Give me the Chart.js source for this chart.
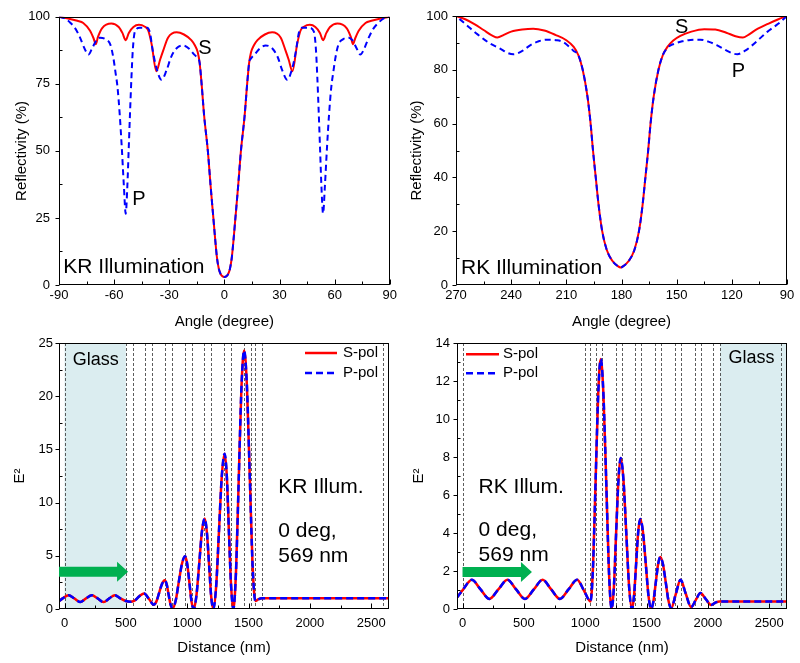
<!DOCTYPE html>
<html>
<head>
<meta charset="utf-8">
<script src="https://cdn.jsdelivr.net/npm/chart.js@4.4.1/dist/chart.umd.min.js"></script>
<style>
  body { margin: 0; background: #fff; }
  #lienzo { position: relative; width: 800px; height: 663px; overflow: hidden; background: #fff; }
  #lienzo canvas { position: absolute; }
</style>
</head>
<body>
<div id="lienzo">
  <canvas id="g1" width="400" height="335" style="left:0;top:0"></canvas>
  <canvas id="g2" width="400" height="335" style="left:400px;top:0"></canvas>
  <canvas id="g3" width="400" height="343" style="left:0;top:320px"></canvas>
  <canvas id="g4" width="400" height="343" style="left:400px;top:320px"></canvas>
</div>
<script>
// Reflectividad, iluminacion KR (angulo en grados, %)
const angKR_S = [-90,-84,-80,-76.8,-73.1,-71.2,-70,-68.8,-66.5,-61.5,-57.5,-55.5,-53.7,-52,-49.5,-46.5,-43.5,-41.4,-39.6,-37,-35,-33.3,-30.6,-26,-22,-18,-16,-14.5,-13.5,-12.4,-11,-9,-7.5,-6,-5,-4,-3,-2,-1,0,1,2,3,4,5,6,7.5,9,11,12.4,13.5,14.5,16,18,22,26,30.6,33.3,35,37,39.6,41.4,43.5,46.5,49.5,52,53.7,55.5,57.5,61.5,66.5,68.8,70,71.2,73.1,76.8,80,84,90];
const refKR_S = [100,99.2,98.5,97.7,94.8,92,89.8,92.5,95.8,97.5,96.2,94,91.3,94,96.2,97,96.4,94.8,89.8,79.7,84,87.4,92.3,94.2,93.4,91.3,89.3,86.8,83,75,63,50,37,25,17,10,6,4,3.2,3.0,3.2,4,6,10,17,25,37,50,63,75,83,86.8,89.3,91.3,93.4,94.2,92.3,87.4,84,79.7,89.8,94.8,96.4,97,96.2,94,91.3,94,96.2,97.5,95.8,92.5,89.8,92,94.8,97.7,98.5,99.2,100];
const angKR_P = [-90,-87,-84,-81,-78.6,-76,-74,-72,-69.5,-67.7,-64.5,-62,-60.5,-59.2,-58.2,-57,-55.9,-54.7,-53.7,-52.8,-52,-51.3,-50.6,-49.8,-48.7,-46,-42,-40.5,-39,-37,-34.2,-31.5,-29,-26,-22.5,-19,-16.5,-14.5,-13.5,-12.4,-11,-9,-7.5,-6,-5,-4,-3,-2,-1,0,1,2,3,4,5,6,7.5,9,11,12.4,13.5,14.5,16.5,19,22.5,26,29,31.5,34.2,37,39,40.5,42,46,48.7,49.8,50.6,51.3,52,52.8,53.7,54.7,55.9,57,58.2,59.2,60.5,62,64.5,67.7,69.5,72,74,76,78.6,81,84,87,90];
const refKR_P = [100,99.5,97.9,95.5,92.3,88,85.9,88.2,91.4,92.2,91.6,89.5,85,79,74,64,52,37,26.6,37,52,65,77,88,94.5,95.9,95.9,94,87.5,81,76.5,80,85,88.3,89.3,88,86,84.5,83,75,63,50,37,25,17,10,6,4,3.2,3.0,3.2,4,6,10,17,25,37,50,63,75,83,84.5,86,88,89.3,88.3,85,80,76.5,81,87.5,94,95.9,95.9,94.5,88,77,65,52,37,26.6,37,52,64,74,79,85,89.5,91.6,92.2,91.4,88.2,85.9,88,92.3,95.5,97.9,99.5,100];

// Reflectividad, iluminacion RK
const angRK_S = [90,95,100,107,111,114,118,123,129,135,142,148,152,155,157.5,159.9,162.5,164.2,165.5,167,168.5,170.5,173,176,179,180.5,182,185,188,190.5,192.5,194,195.5,196.8,198.5,201.1,203.5,206,210,216,222,228,234,240,244,247.5,250,255,260,265,270];
const refRK_S = [100,98.7,97.2,94.8,93,92,92.5,93.8,95,95.1,94.2,92.6,90.8,88.5,85.5,80,70,60,50,40,30,20,13,9,7,6.5,7,9,13,20,30,40,50,60,70,80,85.5,88.5,91,93,94.6,95.3,95,94.2,93,92,92.6,94.8,97,98.8,100];
const angRK_P = [90,95,100.9,105,110,113,117,119,123,128,132,137.2,142.6,147,152,155,157.5,159.9,162.5,164.2,165.5,167,168.5,170.5,173,176,179,180.5,182,185,188,190.5,192.5,194,195.5,196.8,198.5,201.1,203.5,206,208,211.6,215,220.6,225,229.7,234,238.8,242,246,252,258.7,264,270];
const refRK_P = [100,97,94,91.5,88.5,87,85.8,86,87.2,89.1,90.3,91.2,91.1,90.6,89.5,88.2,85.5,80,70,60,50,40,30,20,13,9,7,6.5,7,9,13,20,30,40,50,60,70,80,85.5,87,88.3,90.3,91,91.2,90.6,89.1,87,85.8,86.3,87.9,90,93.4,96.5,100];

// Campo E^2 a 0 deg, 569 nm (S y P coinciden)
const distKR = [-45,-15,33,80,128,175,223,270,318,365,410,455,500,535,570,610,649,690,728,750,772,795,817,833,848,864,880,906,931,957,983,1000,1018,1035,1053,1075,1098,1120,1143,1160,1178,1195,1213,1236,1259,1282,1305,1323,1340,1358,1376,1398,1420,1442,1464,1487,1510,1533,1556,1578,1610,2645];
const e2KR = [0.72,1.0,1.3,1.0,0.65,1.0,1.3,1.0,0.65,1.0,1.3,1.0,0.75,0.68,0.78,1.2,1.45,0.92,0.4,0.74,1.55,2.36,2.7,2.31,1.38,0.44,0.05,0.77,2.5,4.23,4.95,4.23,2.48,0.72,0.0,1.24,4.25,7.26,8.5,7.26,4.25,1.24,0.0,2.13,7.3,12.47,14.6,12.47,7.3,2.13,0.0,3.55,12.15,20.75,24.3,20.9,12.5,4.1,0.75,0.9,1.0,1.0];
const distRK = [-45,5,76,147,219,292,366,437,509,581,653,723,794,864,934,990,1043,1064,1085,1106,1127,1149,1172,1194,1216,1234,1252,1271,1289,1312,1335,1358,1381,1398,1415,1432,1449,1471,1494,1516,1538,1556,1575,1594,1612,1634,1657,1679,1701,1739,1777,1820,1863,1901,1939,1983,2026,2060,2094,2645];
const e2RK = [0.6,1.03,1.54,1.03,0.53,1.03,1.54,1.03,0.53,1.03,1.54,1.03,0.53,1.03,1.54,0.97,0.4,2.26,6.78,11.3,13.16,11.24,6.58,1.92,0,1.16,3.98,6.79,7.95,6.79,3.98,1.16,0,0.69,2.37,4.05,4.74,4.05,2.37,0.69,0,0.4,1.37,2.34,2.74,2.35,1.39,0.43,0.04,0.8,1.54,0.8,0.1,0.47,0.84,0.52,0.21,0.33,0.4,0.4];

// Limites de capas (nm) y zona de vidrio
const capasKR = [0,500,556,660,716,822,877,982,1036,1140,1198,1297,1355,1459,1517,1555,1607,2600];
const capasRK = [0,1000,1043,1088,1138,1249,1300,1410,1455,1568,1614,1728,1777,1896,1945,2042,2100,2600];
const vidrioKR = [0, 500];
const vidrioRK = [2100, 2645];

// Marcas de los ejes
const ticksAngKR = [-90,-60,-30,0,30,60,90];
const ticksAngRK = [90,120,150,180,210,240,270];
const ticksDist = [0,500,1000,1500,2000,2500];
const ticksRefKR = [0,25,50,75,100];
const ticksRefRK = [0,20,40,60,80,100];
const ticksE2KR = [0,5,10,15,20,25];
const ticksE2RK = [0,2,4,6,8,10,12,14];

const FUENTE = "'Liberation Sans', Arial, sans-serif";
Chart.defaults.font.family = FUENTE;
Chart.defaults.color = '#000';

const ROJO = '#ff0000', AZUL = '#0000ff', VERDE = '#00b050';

function puntos(xs, ys) {
    return xs.map((x, i) => ({ x: x, y: ys[i] }));
}

function serie(etiqueta, xs, ys, color, guiones, orden, grosor) {
    return {
        label: etiqueta,
        data: puntos(xs, ys),
        borderColor: color,
        borderWidth: grosor,
        borderDash: guiones,
        pointRadius: 0,
        fill: false,
        cubicInterpolationMode: 'monotone',
        order: orden // P se dibuja encima de S
    };
}

function medios(valores) {
    let m = [];
    for (let i = 0; i < valores.length - 1; i++) m.push((valores[i] + valores[i + 1]) / 2);
    return m;
}

function ejeX(c) {
    return {
        type: 'linear', min: c.min, max: c.max, reverse: !!c.reverse,
        grid: { display: false, drawTicks: false },
        border: { display: false },
        ticks: { font: { size: 13 }, padding: c.pad, maxRotation: 0, autoSkip: false, callback: v => String(v) },
        afterBuildTicks: s => { s.ticks = c.ticks.map(v => ({ value: v })); },
        afterFit: s => { s.height = c.alto; },
        title: { display: true, text: c.titulo, font: { size: 15 }, padding: { top: 0, bottom: c.padTitulo } }
    };
}

function ejeY(c) {
    return {
        type: 'linear', min: c.min, max: c.max,
        grid: { display: false, drawTicks: false },
        border: { display: false },
        ticks: { font: { size: 13 }, padding: c.pad, callback: v => String(v) },
        afterBuildTicks: s => { s.ticks = c.ticks.map(v => ({ value: v })); },
        afterFit: s => { s.width = c.ancho; },
        title: { display: true, text: c.titulo, font: { size: 15 }, padding: { top: c.padTitulo, bottom: 0 } }
    };
}

// Plugin por grafico: sombreado, capas, marco, marcas, textos, flecha y leyenda
function crearMarco(extra) {
    return {
        id: 'marco',
        beforeDatasetsDraw(chart) {
            const { ctx, chartArea: a, scales: { x } } = chart;
            ctx.save();
            ctx.beginPath();
            ctx.rect(a.left, a.top, a.width, a.height);
            ctx.clip();
            if (extra.vidrio) {
                const x0 = x.getPixelForValue(extra.vidrio[0]);
                const x1 = x.getPixelForValue(extra.vidrio[1]);
                ctx.fillStyle = '#dbedf0';
                ctx.fillRect(Math.min(x0, x1), a.top, Math.abs(x1 - x0), a.height);
            }
            if (extra.capas) {
                ctx.strokeStyle = '#333';
                ctx.lineWidth = 0.8;
                ctx.setLineDash([3, 2]);
                extra.capas.forEach(v => {
                    const px = Math.round(x.getPixelForValue(v)) + 0.5;
                    ctx.beginPath();
                    ctx.moveTo(px, a.top);
                    ctx.lineTo(px, a.bottom);
                    ctx.stroke();
                });
            }
            ctx.restore();
        },
        afterDatasetsDraw(chart) {
            const { ctx, chartArea: a, scales: { x, y } } = chart;
            ctx.save();
            ctx.strokeStyle = '#000';
            ctx.fillStyle = '#000';
            ctx.lineWidth = 1;
            ctx.setLineDash([]);

            const linea = (x0, y0, x1, y1) => {
                ctx.beginPath(); ctx.moveTo(x0, y0); ctx.lineTo(x1, y1); ctx.stroke();
            };
            const L = Math.round(a.left) + 0.5, R = Math.round(a.right) - 0.5;
            const T = Math.round(a.top) + 0.5, B = Math.round(a.bottom) - 0.5;
            ctx.strokeRect(L, T, R - L, B - T);

            // eje x: marcas hacia dentro
            const vx = x.ticks.map(t => t.value);
            vx.forEach(v => { const p = Math.round(x.getPixelForValue(v)) + 0.5; linea(p, B, p, B - 5); });
            medios(vx).forEach(v => { const p = Math.round(x.getPixelForValue(v)) + 0.5; linea(p, B, p, B - 3); });
            // eje y: mayores hacia fuera, menores hacia dentro
            const vy = y.ticks.map(t => t.value);
            vy.forEach(v => { const p = Math.round(y.getPixelForValue(v)) + 0.5; linea(L - 4, p, L, p); });
            medios(vy).forEach(v => { const p = Math.round(y.getPixelForValue(v)) + 0.5; linea(L, p, L + 3, p); });

            if (extra.flecha) {
                const f = extra.flecha;
                const x0 = Math.max(x.getPixelForValue(f.desde), a.left);
                const x1 = x.getPixelForValue(f.hasta);
                const yc = y.getPixelForValue(f.nivel);
                ctx.fillStyle = VERDE;
                ctx.beginPath();
                ctx.moveTo(x0, yc - 5);
                ctx.lineTo(x1 - 11, yc - 5);
                ctx.lineTo(x1 - 11, yc - 10);
                ctx.lineTo(x1, yc);
                ctx.lineTo(x1 - 11, yc + 10);
                ctx.lineTo(x1 - 11, yc + 5);
                ctx.lineTo(x0, yc + 5);
                ctx.closePath();
                ctx.fill();
            }

            ctx.fillStyle = '#000';
            ctx.textBaseline = 'alphabetic';
            (extra.textos || []).forEach(t => {
                ctx.font = t.size + 'px ' + FUENTE;
                ctx.fillText(t.t, a.left + t.dx, a.top + t.dy);
            });

            if (extra.leyenda) {
                const ley = extra.leyenda;
                ctx.font = '15px ' + FUENTE;
                ctx.textBaseline = 'middle';
                chart.data.datasets.forEach((ds, i) => {
                    const yy = a.top + ley.dy[i];
                    ctx.strokeStyle = ds.borderColor;
                    ctx.lineWidth = 2.5;
                    ctx.setLineDash(ds.borderDash || []);
                    linea(a.left + ley.x0, yy, a.left + ley.x1, yy);
                    ctx.fillText(ds.label, a.left + ley.tx, yy);
                });
            }
            ctx.restore();
        }
    };
}

function crearGrafico(id, datasets, ejes, extra) {
    new Chart(document.getElementById(id), {
        type: 'line',
        data: { datasets: datasets },
        options: {
            responsive: false,
            animation: false,
            events: [],
            layout: { padding: extra.relleno },
            plugins: { legend: { display: false }, tooltip: { enabled: false } },
            scales: { x: ejeX(ejes.x), y: ejeY(ejes.y) }
        },
        plugins: [crearMarco(extra)]
    });
}

// Arriba izquierda: KR
crearGrafico('g1', [
    serie('S', angKR_S, refKR_S, ROJO, [], 2, 2),
    serie('P', angKR_P, refKR_P, AZUL, [6, 4], 1, 2)
], {
    x: { min: -90, max: 90, ticks: ticksAngKR, pad: 3, alto: 50, titulo: 'Angle (degree)', padTitulo: 4 },
    y: { min: 0, max: 100, ticks: ticksRefKR, pad: 9, ancho: 59, titulo: 'Reflectivity (%)', padTitulo: 12.7 }
}, {
    relleno: { top: 16, right: 10, left: 0, bottom: 0 },
    textos: [
        { t: 'S', dx: 139.3, dy: 36.7, size: 20 },
        { t: 'P', dx: 73.3, dy: 188.3, size: 20 },
        { t: 'KR Illumination', dx: 4.3, dy: 255.7, size: 21 }
    ]
});

// Arriba derecha: RK (eje invertido)
crearGrafico('g2', [
    serie('S', angRK_S, refRK_S, ROJO, [], 2, 2),
    serie('P', angRK_P, refRK_P, AZUL, [6, 4], 1, 2)
], {
    x: { min: 90, max: 270, reverse: true, ticks: ticksAngRK, pad: 3, alto: 50, titulo: 'Angle (degree)', padTitulo: 4 },
    y: { min: 0, max: 100, ticks: ticksRefRK, pad: 8, ancho: 56, titulo: 'Reflectivity (%)', padTitulo: 7.7 }
}, {
    relleno: { top: 16, right: 13, left: 0, bottom: 0 },
    textos: [
        { t: 'S', dx: 219, dy: 17.3, size: 20 },
        { t: 'P', dx: 275.7, dy: 60.7, size: 20 },
        { t: 'RK Illumination', dx: 5, dy: 258, size: 21 }
    ]
});

// Abajo izquierda: campo KR
crearGrafico('g3', [
    serie('S-pol', distKR, e2KR, ROJO, [], 2, 2.5),
    serie('P-pol', distKR, e2KR, AZUL, [7, 4], 1, 2.5)
], {
    x: { min: -45, max: 2645, ticks: ticksDist, pad: 6.5, alto: 54, titulo: 'Distance (nm)', padTitulo: 6 },
    y: { min: 0, max: 25, ticks: ticksE2KR, pad: 6, ancho: 59, titulo: 'E²', padTitulo: 11 }
}, {
    relleno: { top: 23, right: 11, left: 0, bottom: 0 },
    vidrio: vidrioKR,
    capas: capasKR,
    flecha: { desde: -45, hasta: 518, nivel: 3.5 },
    textos: [
        { t: 'Glass', dx: 13.7, dy: 22, size: 18 },
        { t: 'KR Illum.', dx: 219.3, dy: 150.3, size: 21 },
        { t: '0 deg,', dx: 219.3, dy: 193.7, size: 21 },
        { t: '569 nm', dx: 219.3, dy: 218.7, size: 21 }
    ],
    leyenda: { x0: 246, x1: 278, tx: 284, dy: [10, 30] }
});

// Abajo derecha: campo RK
crearGrafico('g4', [
    serie('S-pol', distRK, e2RK, ROJO, [], 2, 2.5),
    serie('P-pol', distRK, e2RK, AZUL, [7, 4], 1, 2.5)
], {
    x: { min: -45, max: 2645, ticks: ticksDist, pad: 6.5, alto: 54, titulo: 'Distance (nm)', padTitulo: 6 },
    y: { min: 0, max: 14, ticks: ticksE2RK, pad: 7, ancho: 57, titulo: 'E²', padTitulo: 10 }
}, {
    relleno: { top: 23, right: 13, left: 0, bottom: 0 },
    vidrio: vidrioRK,
    capas: capasRK,
    flecha: { desde: 0, hasta: 566, nivel: 1.95 },
    textos: [
        { t: 'Glass', dx: 271.6, dy: 19.5, size: 18 },
        { t: 'RK Illum.', dx: 21.6, dy: 149.7, size: 21 },
        { t: '0 deg,', dx: 21.6, dy: 193, size: 21 },
        { t: '569 nm', dx: 21.6, dy: 217.7, size: 21 }
    ],
    leyenda: { x0: 9, x1: 42, tx: 46, dy: [11.3, 30.3] }
});
</script>
</body>
</html>
